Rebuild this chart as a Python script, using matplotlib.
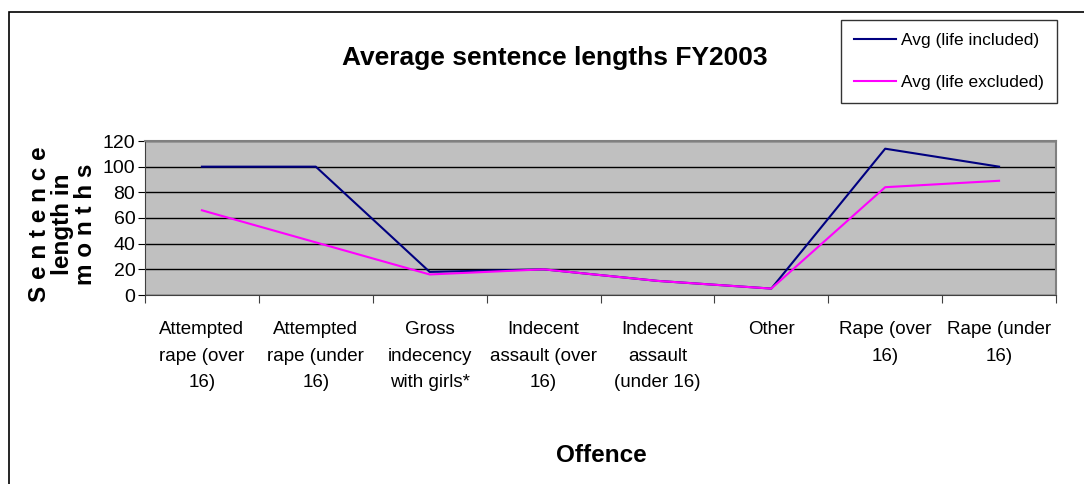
import matplotlib.pyplot as plt
from matplotlib.patches import Rectangle

# ---------- data ----------
offences = [
    "Attempted\nrape (over\n16)",
    "Attempted\nrape (under\n16)",
    "Gross\nindecency\nwith girls*",
    "Indecent\nassault (over\n16)",
    "Indecent\nassault\n(under 16)",
    "Other",
    "Rape (over\n16)",
    "Rape (under\n16)",
]
avg_life_included = [100, 100, 18, 20, 11, 5, 114, 100]
avg_life_excluded = [66, 41, 16, 20, 11, 5, 84, 89]

plt.rcParams["font.family"] = ["Liberation Sans", "DejaVu Sans"]

fig = plt.figure(figsize=(10.84, 4.84), dpi=100)
ax = fig.add_axes([145 / 1084, 1 - 295 / 484, 911 / 1084, 154 / 484])

# outer chart frame (clipped on right and bottom like the original)
fig.patches.append(Rectangle((9 / 1084, -0.1), 1.2, 1 - 12 / 484 + 0.1,
                             transform=fig.transFigure, fill=False,
                             edgecolor="black", linewidth=1.2))

x = [i + 0.5 for i in range(len(offences))]
ax.plot(x, avg_life_included, color="#000080", linewidth=1.5, label="Avg (life included)")
ax.plot(x, avg_life_excluded, color="#FF00FF", linewidth=1.5, label="Avg (life excluded)")

ax.set_facecolor("#C0C0C0")
ax.set_xlim(0, len(offences))
ax.set_ylim(0, 120)
ax.set_yticks(range(0, 121, 20))
ax.yaxis.grid(True, color="black", linewidth=1)
ax.set_axisbelow(True)

ax.set_xticks(range(len(offences) + 1))
ax.set_xticklabels([])
ax.set_xticks(x, minor=True)
ax.set_xticklabels(offences, minor=True, fontsize=13.5, linespacing=1.72)
ax.tick_params(axis="x", which="minor", length=0, pad=19)
ax.tick_params(axis="x", which="major", length=6, color="#404040")
ax.tick_params(axis="y", labelsize=14, length=5, pad=2)

for side in ["top", "right"]:
    ax.spines[side].set_color("#808080")
    ax.spines[side].set_linewidth(1.5)
for side in ["left", "bottom"]:
    ax.spines[side].set_color("#404040")

fig.text(555 / 1084, 1 - 58 / 484, "Average sentence lengths FY2003",
         ha="center", va="center", fontsize=19, fontweight="bold")
fig.text(601 / 1084, 1 - 456 / 484, "Offence",
         ha="center", va="center", fontsize=17.5, fontweight="bold")
fig.text(63 / 1084, 1 - 224 / 484, "S e n t e n c e\nlength in\nm o n t h s",
         ha="center", va="center", rotation=90, fontsize=17.5, fontweight="bold",
         linespacing=1.0)

leg = fig.legend(loc="upper right", bbox_to_anchor=(1057 / 1084, 1 - 20 / 484),
                 frameon=True, fancybox=False, edgecolor="black", fontsize=12.5,
                 handlelength=2.4, borderpad=0.75, labelspacing=1.55, handletextpad=0.3,
                 borderaxespad=0)
leg.get_frame().set_linewidth(1)

fig.savefig("out.png", dpi=100)
